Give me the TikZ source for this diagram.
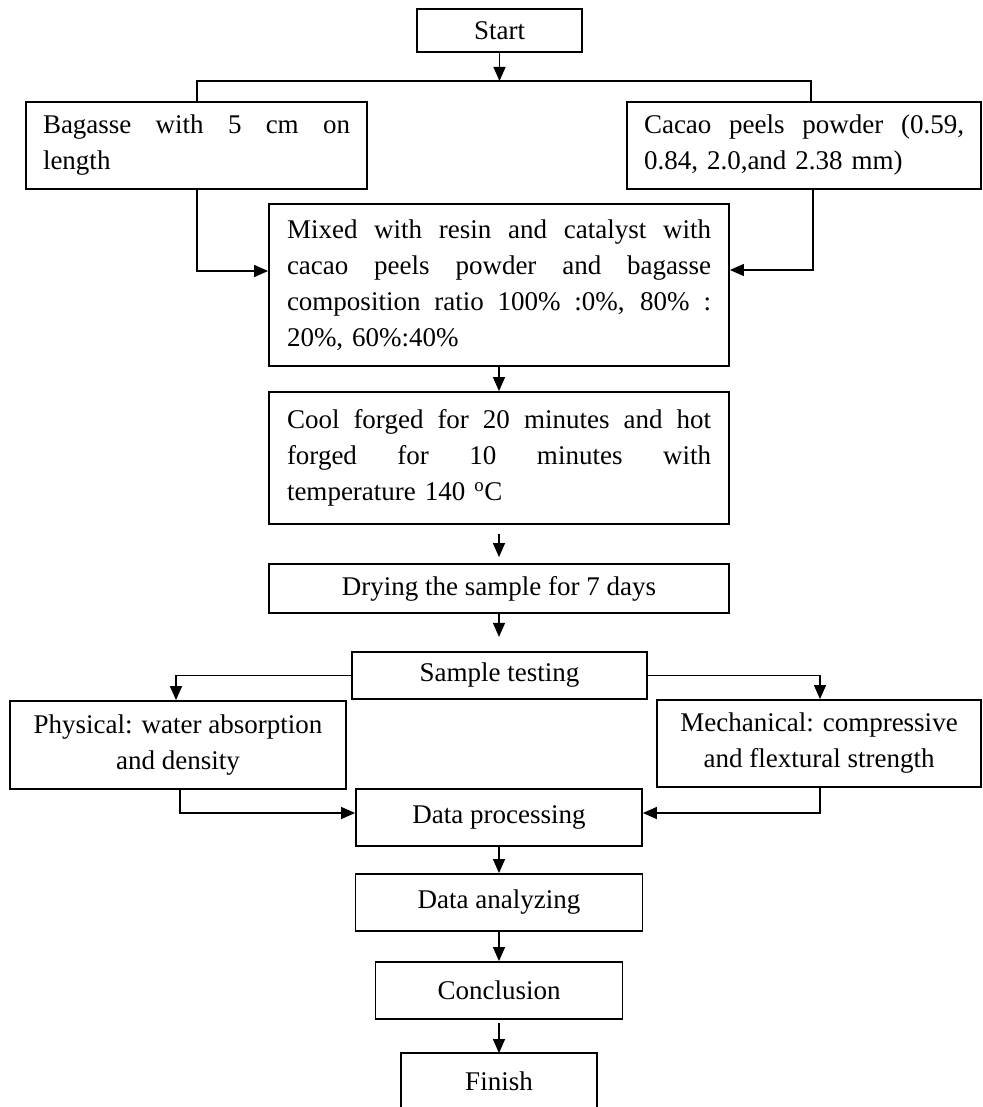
\documentclass[tikz,border=0pt]{standalone}
\usepackage{fontspec}
\setmainfont{Liberation Serif}
\usetikzlibrary{arrows.meta,calc}
\newcommand{\jl}[2]{\leavevmode\hbox to #1{\spaceskip=0.25em plus 1fil\relax\xspaceskip=0.25em plus 1fil\relax #2}}
\begin{document}
\begin{tikzpicture}[x=1pt,y=-1pt,
  box/.style={draw, line width=1.8pt, inner sep=0pt, font=\fontsize{27}{36}\selectfont},
  conn/.style={line width=1.3pt},
  arr/.style={conn,-{Triangle[length=14pt,width=12pt]}}]
\useasboundingbox (0,0) rectangle (982,1107);

\node[box, minimum width=165pt, minimum height=43pt] (start) at (499.5,30.5) {Start};
\node[box, minimum width=341pt, minimum height=87pt, text width=307pt, align=left] (bag) at (196.5,145.5)
  {\jl{307pt}{Bagasse with 5 cm on}\\length};
\node[box, minimum width=354pt, minimum height=87pt, text width=320pt, align=left] (cac) at (804,145.5)
  {\jl{320pt}{Cacao peels powder (0.59,}\\0.84, 2.0,and 2.38 mm)};
\node[box, minimum width=460pt, minimum height=162pt, text width=424pt, align=left] (mix) at (499,285)
  {\jl{424pt}{Mixed with resin and catalyst with}\\
   \jl{424pt}{cacao peels powder and bagasse}\\
   \jl{424pt}{composition ratio 100\% :0\%, 80\% :}\\
   20\%, 60\%:40\%};
\node[box, minimum width=460pt, minimum height=132pt, text width=424pt, align=left] (cool) at (499,458)
  {\jl{424pt}{Cool forged for 20 minutes and hot}\\
   \jl{424pt}{forged for 10 minutes with}\\
   temperature 140 \textsuperscript{o}C};
\node[box, minimum width=460pt, minimum height=49pt] (dry) at (499,588.5) {Drying the sample for 7 days};
\node[box, minimum width=295pt, minimum height=47pt] (smp) at (499.5,675.5) {Sample testing};
\node[box, minimum width=336pt, minimum height=88pt, align=center] (phy) at (178,745)
  {Physical: water absorption\\and density};
\node[box, minimum width=324pt, minimum height=87pt, align=center] (mech) at (819,743.5)
  {Mechanical: compressive\\and flextural strength};
\node[box, minimum width=286pt, minimum height=57pt] (dp) at (499,817.5) {Data processing};
\node[box, minimum width=287pt, minimum height=57pt] (da) at (499,902.5) {Data analyzing};
\node[box, minimum width=247pt, minimum height=57pt] (conc) at (499,990.5) {Conclusion};
\node[box, draw=none, minimum width=194pt, minimum height=54pt] (fin) at (499,1081) {Finish};
\draw[line width=1.8pt] (fin.south west) -- (fin.north west) -- (fin.north east) -- (fin.south east);

% connectors
\coordinate (j1) at (197,81);
\coordinate (j2) at (811,81);
\draw[arr] (start.south) -- (start.south |- j1);
\draw[conn] (bag.north -| j1) -- (j1) -- (j2) -- (cac.north -| j2);

\coordinate (m1) at (197,271);
\coordinate (m2) at (813,270);
\draw[arr] (bag.south -| m1) |- (mix.west |- m1);
\draw[arr] (cac.south -| m2) |- (mix.east |- m2);

\draw[arr] (mix.south) -- (cool.north);
\draw[arr] ($(cool.south)+(0,9)$) -- ($(dry.north)+(0,-6)$);
\coordinate (d1) at ($(dry.south)+(0,23)$);
\draw[arr] (dry.south) -- (d1);

\draw[arr] (smp.west) -| (phy.north -| 176,0);
\draw[arr] (smp.east) -| (mech.north -| 820,0);

\coordinate (p1) at (180,813);
\coordinate (p2) at (820,813);
\draw[arr] (phy.south -| p1) |- (dp.west |- p1);
\draw[arr] (mech.south -| p2) |- (dp.east |- p2);

\draw[arr] (dp.south) -- (da.north);
\draw[arr] (da.south) -- (conc.north);
\draw[arr] ($(conc.south)+(0,3)$) -- (fin.north);
\end{tikzpicture}
\end{document}
